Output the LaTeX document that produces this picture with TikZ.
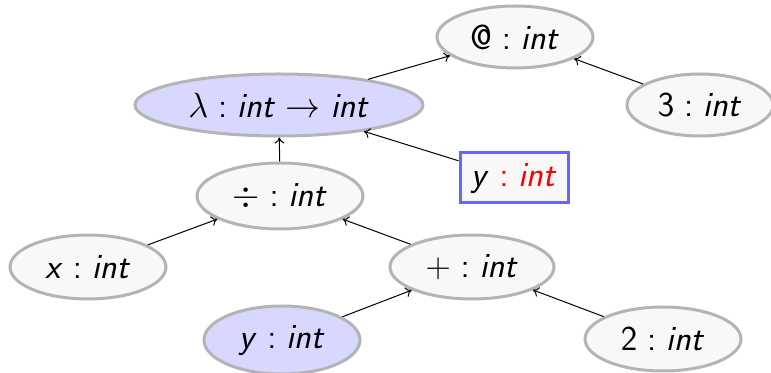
\documentclass[tikz,border=0pt]{standalone}
\usepackage{fix-cm}
\usepackage{tikz}
\usepackage{amsmath}
\usetikzlibrary{positioning, arrows.meta, shapes.geometric}
% sans serif math, as in slides
\SetSymbolFont{operators}{normal}{OT1}{cmss}{m}{n}
\DeclareSymbolFont{sfletters}{OT1}{cmss}{m}{sl}
\DeclareMathSymbol{i}{\mathalpha}{sfletters}{`i}
\DeclareMathSymbol{n}{\mathalpha}{sfletters}{`n}
\DeclareMathSymbol{t}{\mathalpha}{sfletters}{`t}
\DeclareMathSymbol{x}{\mathalpha}{sfletters}{`x}
\DeclareMathSymbol{y}{\mathalpha}{sfletters}{`y}
\definecolor{bgNode}{HTML}{F8F8F8}
\definecolor{bgMark}{HTML}{D8D8FF}
\definecolor{borderNode}{HTML}{B4B4B4}
\definecolor{borderBox}{HTML}{6666FF}
\definecolor{typeRed}{HTML}{FF0000}
\tikzset{
  term/.style={ellipse, draw=borderNode, fill=bgNode, line width=1.5pt,
    minimum width=78pt, minimum height=31pt, inner sep=0pt,
    font=\sffamily\fontsize{17.5}{21}\selectfont, text=black},
  markterm/.style={term, fill=bgMark},
  holebox/.style={draw=borderBox, fill=bgNode, line width=1.5pt,
    minimum width=54pt, minimum height=25pt, inner sep=2pt,
    font=\sffamily\fontsize{17.5}{21}\selectfont},
  edge/.style={-{To[length=3pt, width=5pt]}, line width=0.5pt, color=black},
}

\begin{document}
\begin{tikzpicture}[x=0.5pt, y=-0.5pt]
  \useasboundingbox (0,0) rectangle (771,373);

  % === Top: application ===
  \node[term] (app) at (515,37) {$\text{@} : int$};
  \node[term, minimum width=73pt] (three) at (700,105) {$3 : int$};
  \node[markterm, minimum width=144pt] (lam) at (279,105) {$\lambda : int \rightarrow int$};
  \node[holebox] (hole) at (514,178) {$y \mathrel{\color{typeRed}:} {\color{typeRed}int}$};

  % === Body of the lambda ===
  \node[term, minimum width=83pt, minimum height=33pt] (div) at (280,196) {$\div : int$};
  \node[term, minimum height=32pt] (x) at (88,267) {$x : int$};
  \node[term, minimum width=82pt, minimum height=32pt] (plus) at (472,267) {$+ : int$};
  \node[markterm, minimum height=34pt] (y) at (282,340) {$y : int$};
  \node[term, minimum height=32pt] (two) at (663,339) {$2 : int$};

  % === Edges: child -> parent ===
  \draw[edge] (lam) -- (app);
  \draw[edge] (three) -- (app);
  \draw[edge] (hole) -- (lam);
  \draw[edge] (div) -- (lam);
  \draw[edge] (x) -- (div);
  \draw[edge] (plus) -- (div);
  \draw[edge] (y) -- (plus);
  \draw[edge] (two) -- (plus);

\end{tikzpicture}
\end{document}
